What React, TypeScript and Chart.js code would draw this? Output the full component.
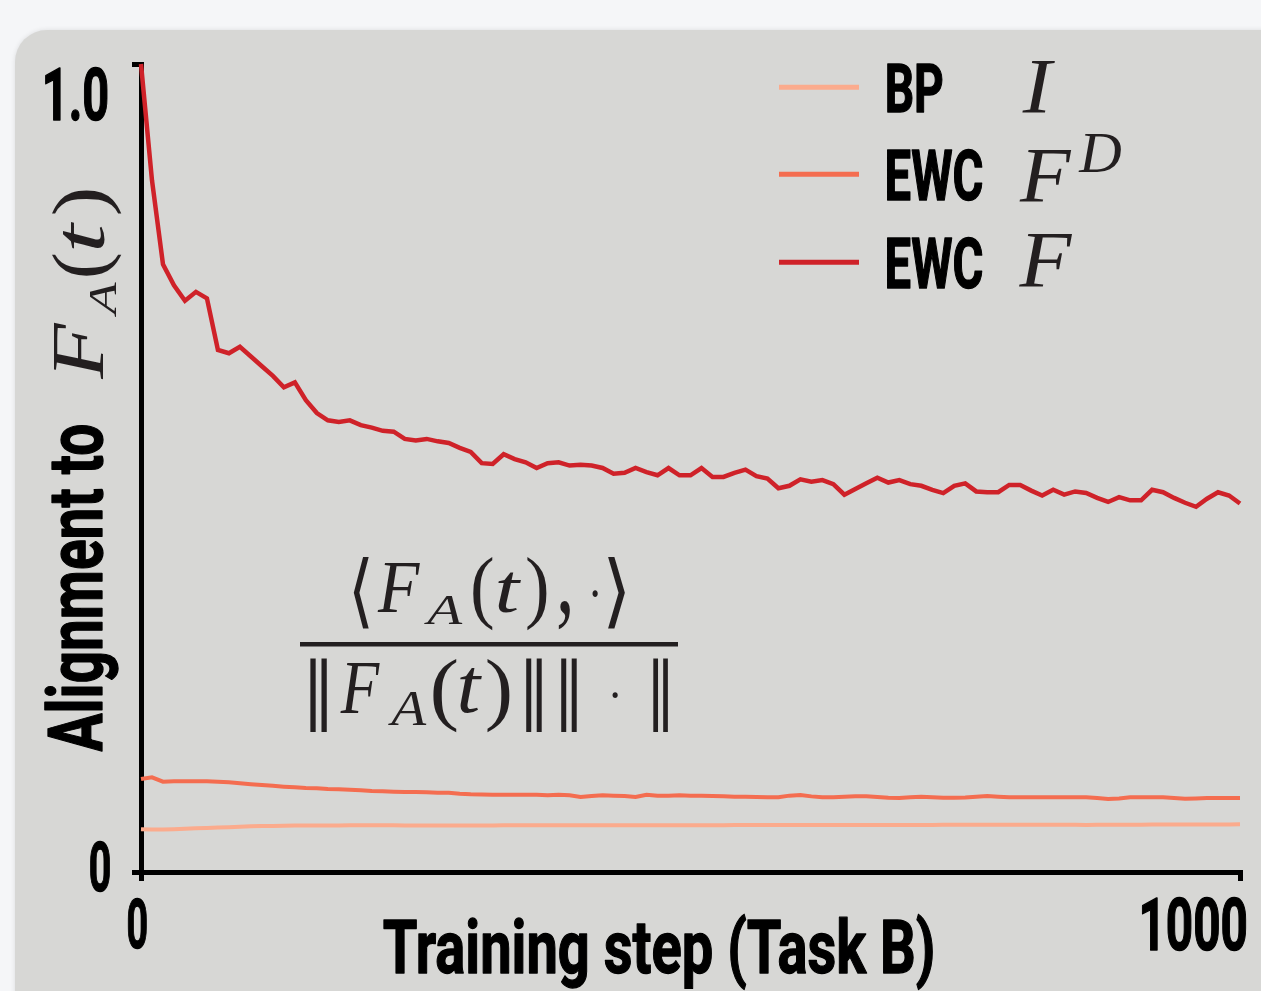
import React, { useEffect, useRef } from "react";
import { Chart, registerables } from "chart.js";

Chart.register(...registerables);

// ---------- data ----------
const steps: number[] = Array.from({ length: 101 }, (_, i) => i * 10);

const ewcF: number[] = [
  1.0, 0.856, 0.752, 0.726, 0.707, 0.718, 0.71, 0.646, 0.642, 0.65,
  0.638, 0.626, 0.614, 0.6, 0.606, 0.584, 0.568, 0.559, 0.557, 0.559,
  0.553, 0.55, 0.546, 0.545, 0.536, 0.534, 0.536, 0.533, 0.531, 0.525,
  0.52, 0.506, 0.505, 0.517, 0.511, 0.507, 0.5, 0.506, 0.507, 0.503,
  0.504, 0.503, 0.5, 0.493, 0.494, 0.5, 0.495, 0.491, 0.5, 0.491,
  0.491, 0.5, 0.489, 0.489, 0.494, 0.498, 0.49, 0.487, 0.475, 0.478,
  0.486, 0.483, 0.485, 0.48, 0.467, 0.474, 0.481, 0.488, 0.482, 0.485,
  0.48, 0.478, 0.473, 0.469, 0.478, 0.481, 0.471, 0.47, 0.47, 0.479,
  0.479, 0.472, 0.466, 0.473, 0.467, 0.471, 0.469, 0.463, 0.458, 0.464,
  0.46, 0.46, 0.473, 0.47, 0.463, 0.457, 0.452, 0.462, 0.47, 0.466,
  0.456,
];

const ewcFD: number[] = [
  0.1151, 0.1172, 0.1118, 0.1122, 0.1122, 0.1122, 0.1122, 0.1118, 0.111, 0.1097,
  0.1087, 0.1077, 0.1066, 0.1056, 0.1048, 0.104, 0.1036, 0.1027, 0.1023, 0.1017,
  0.1011, 0.1002, 0.0998, 0.0994, 0.099, 0.099, 0.0986, 0.0982, 0.0982, 0.0969,
  0.0961, 0.0959, 0.0957, 0.0957, 0.0957, 0.0957, 0.0955, 0.0949, 0.0957, 0.0949,
  0.0928, 0.094, 0.0949, 0.0945, 0.094, 0.0928, 0.0957, 0.0945, 0.0945, 0.0949,
  0.0945, 0.0943, 0.094, 0.0936, 0.0932, 0.093, 0.0928, 0.0924, 0.0924, 0.0945,
  0.0953, 0.0936, 0.0924, 0.0924, 0.093, 0.0936, 0.0936, 0.0928, 0.0918, 0.0916,
  0.0924, 0.0932, 0.0926, 0.092, 0.092, 0.0922, 0.0932, 0.094, 0.0932, 0.0924,
  0.0924, 0.0924, 0.0924, 0.0924, 0.0924, 0.0924, 0.0924, 0.0916, 0.0903, 0.0911,
  0.0924, 0.0924, 0.0924, 0.0924, 0.0916, 0.0907, 0.0911, 0.0916, 0.0916, 0.0916,
  0.0916,
];

const bpI: number[] = [
  0.053, 0.0525, 0.0525, 0.053, 0.0535, 0.054, 0.0545, 0.055, 0.0555, 0.056,
  0.0565, 0.0568, 0.057, 0.0572, 0.0574, 0.0575, 0.0576, 0.0577, 0.0577, 0.0578,
  0.0578, 0.0578, 0.0578, 0.0578, 0.0577, 0.0577, 0.0577, 0.0577, 0.0576, 0.0576,
  0.0576, 0.0577, 0.0577, 0.0578, 0.0578, 0.0578, 0.0579, 0.0579, 0.0579, 0.0579,
  0.0578, 0.0578, 0.0578, 0.0578, 0.0578, 0.0579, 0.0579, 0.0579, 0.058, 0.058,
  0.058, 0.058, 0.058, 0.058, 0.0581, 0.0581, 0.0581, 0.0581, 0.0581, 0.0581,
  0.0582, 0.0582, 0.0582, 0.0582, 0.0582, 0.0582, 0.0583, 0.0583, 0.0583, 0.0583,
  0.0583, 0.0583, 0.0583, 0.0584, 0.0584, 0.0584, 0.0584, 0.0585, 0.0585, 0.0585,
  0.0585, 0.0585, 0.0585, 0.0585, 0.0585, 0.0584, 0.0583, 0.0584, 0.0585, 0.0586,
  0.0586, 0.0586, 0.0587, 0.0587, 0.0587, 0.0588, 0.0588, 0.0588, 0.0589, 0.0589,
  0.059,
];

const xTicks: number[] = [0, 1000];
const yTicks: number[] = [0, 1];
const xTickLabels: string[] = ["0", "1000"];
const yTickLabels: string[] = ["0", "1.0"];
const legendNames: string[] = ["BP", "EWC", "EWC"];
const legendMath: string[] = ["I", "F", "F"];
const legendSup: string[] = ["", "D", ""];
const xTitle = "Training step (Task B)";
const yTitleText = "Alignment to";

// ---------- text helpers ----------
const COND = (s: number) => `700 ${s}px Roboto, "DejaVu Sans", sans-serif`;
const ITAL = (s: number) => `italic 400 ${s}px "Liberation Serif", "DejaVu Serif", serif`;
const UPR = (s: number) =>
  `400 ${s}px "Liberation Serif", "DejaVu Serif", "DejaVu Sans", "Noto Sans CJK JP", serif`;
const MATH_COLOR = "#231f20";
const COND_STROKE = 1.5;

type Box = { x0: number; y0: number; x1: number; y1: number };

function fitLocal(ctx: CanvasRenderingContext2D, text: string, font: string, color: string, b: Box, stroke = 0) {
  ctx.save();
  ctx.font = font;
  ctx.fillStyle = color;
  ctx.strokeStyle = color;
  ctx.textAlign = "left";
  ctx.textBaseline = "alphabetic";
  const m = ctx.measureText(text);
  const w = m.actualBoundingBoxLeft + m.actualBoundingBoxRight;
  const h = m.actualBoundingBoxAscent + m.actualBoundingBoxDescent;
  const sx = (b.x1 - b.x0) / (w + stroke);
  const sy = (b.y1 - b.y0) / (h + stroke);
  ctx.translate(b.x0 + (m.actualBoundingBoxLeft + stroke / 2) * sx, b.y0 + (m.actualBoundingBoxAscent + stroke / 2) * sy);
  ctx.scale(sx, sy);
  ctx.fillText(text, 0, 0);
  if (stroke > 0) {
    ctx.lineWidth = stroke;
    ctx.lineJoin = "round";
    ctx.strokeText(text, 0, 0);
  }
  ctx.restore();
}

// rotated -90deg: reading from yStart (bottom) up to yEnd; glyph tops toward xTop
function fitRot(ctx: CanvasRenderingContext2D, text: string, font: string, color: string,
  yStart: number, yEnd: number, xTop: number, xBottom: number, stroke = 0) {
  ctx.save();
  ctx.translate(xTop, yStart);
  ctx.rotate(-Math.PI / 2);
  fitLocal(ctx, text, font, color, { x0: 0, y0: 0, x1: yStart - yEnd, y1: xBottom - xTop }, stroke);
  ctx.restore();
}

const textPlugin = {
  id: "textPlugin",
  afterDraw(chart: any) {
    const ctx: CanvasRenderingContext2D = chart.ctx;
    const xs = chart.scales.x;
    const ys = chart.scales.y;
    const L = chart.chartArea.left;
    const B = chart.chartArea.bottom;

    // tick labels
    const p1 = ys.getPixelForValue(yTicks[1]);
    const p0 = ys.getPixelForValue(yTicks[0]);
    fitLocal(ctx, yTickLabels[1], COND(76), "#000", { x0: L - 96, y0: p1 + 4, x1: L - 33, y1: p1 + 58 }, COND_STROKE);
    fitLocal(ctx, yTickLabels[0], COND(74), "#000", { x0: L - 51, y0: p0 - 31, x1: L - 30.5, y1: p0 + 21 }, COND_STROKE);
    const q0 = xs.getPixelForValue(xTicks[0]);
    const q1 = xs.getPixelForValue(xTicks[1]);
    fitLocal(ctx, xTickLabels[0], COND(74), "#000", { x0: q0 - 13.3, y0: B + 25, x1: q0 + 6.3, y1: B + 78 }, COND_STROKE);
    fitLocal(ctx, xTickLabels[1], COND(76), "#000", { x0: q1 - 98.3, y0: B + 25, x1: q1 + 6.7, y1: B + 80 }, COND_STROKE);

    // x title
    fitLocal(ctx, xTitle, COND(84), "#000", { x0: 383, y0: 913, x1: 933, y1: 990 }, COND_STROKE);

    // y title
    fitRot(ctx, yTitleText, COND(86), "#000", 752, 425, 44, 118, COND_STROKE);
    fitRot(ctx, "F", ITAL(78), MATH_COLOR, 380, 322, 55, 104);
    fitRot(ctx, "A", ITAL(42), MATH_COLOR, 318, 282, 89, 116);
    fitRot(ctx, "(", UPR(78), MATH_COLOR, 276, 254, 52, 122);
    fitRot(ctx, "t", ITAL(78), MATH_COLOR, 249, 221, 64, 105);
    fitRot(ctx, ")", UPR(78), MATH_COLOR, 214, 190, 52, 122);

    // legend
    const ds = chart.data.datasets;
    const rows = [87.3, 174.3, 262.3];
    const nameBoxes: Box[] = [
      { x0: 886.7, y0: 64, x1: 943, y1: 112.3 },
      { x0: 886.7, y0: 148.3, x1: 982.7, y1: 201.7 },
      { x0: 886.7, y0: 236.7, x1: 982.7, y1: 290 },
    ];
    const mathBoxes: Box[] = [
      { x0: 1021.7, y0: 61.7, x1: 1056, y1: 113.3 },
      { x0: 1019, y0: 150, x1: 1072, y1: 201.7 },
      { x0: 1018.3, y0: 235, x1: 1072.7, y1: 288.3 },
    ];
    for (let i = 0; i < ds.length; i++) {
      ctx.save();
      ctx.strokeStyle = ds[i].borderColor;
      ctx.lineWidth = 5;
      ctx.beginPath();
      ctx.moveTo(779, rows[i]);
      ctx.lineTo(859, rows[i]);
      ctx.stroke();
      ctx.restore();
      fitLocal(ctx, legendNames[i], COND(73), "#000", nameBoxes[i], COND_STROKE);
      fitLocal(ctx, legendMath[i], ITAL(78), MATH_COLOR, mathBoxes[i]);
      if (legendSup[i]) {
        fitLocal(ctx, legendSup[i], ITAL(57), MATH_COLOR, { x0: 1078.3, y0: 133, x1: 1121.7, y1: 171.7 });
      }
    }

    // fraction annotation
    fitLocal(ctx, "\u27E8", UPR(76), MATH_COLOR, { x0: 353, y0: 557, x1: 369, y1: 630 });
    fitLocal(ctx, "F", ITAL(74), MATH_COLOR, { x0: 377, y0: 563, x1: 420, y1: 612 });
    fitLocal(ctx, "A", ITAL(40), MATH_COLOR, { x0: 423, y0: 597, x1: 463, y1: 624 });
    fitLocal(ctx, "(", UPR(74), MATH_COLOR, { x0: 473, y0: 557, x1: 493, y1: 630 });
    fitLocal(ctx, "t", ITAL(74), MATH_COLOR, { x0: 498, y0: 573, x1: 522, y1: 613 });
    fitLocal(ctx, ")", UPR(74), MATH_COLOR, { x0: 527, y0: 557, x1: 547, y1: 630 });
    fitLocal(ctx, ",", UPR(74), MATH_COLOR, { x0: 558, y0: 600, x1: 570, y1: 630 });
    fitLocal(ctx, "\u00B7", UPR(74), MATH_COLOR, { x0: 592, y0: 590, x1: 598, y1: 597 });
    fitLocal(ctx, "\u27E9", UPR(76), MATH_COLOR, { x0: 608, y0: 557, x1: 625, y1: 630 });

    ctx.save();
    ctx.fillStyle = MATH_COLOR;
    ctx.fillRect(300, 642, 378, 4.5);
    ctx.restore();

    fitLocal(ctx, "\u2016", UPR(74), MATH_COLOR, { x0: 309, y0: 658, x1: 327, y1: 732 });
    fitLocal(ctx, "F", ITAL(74), MATH_COLOR, { x0: 340, y0: 662, x1: 380, y1: 713 });
    fitLocal(ctx, "A", ITAL(40), MATH_COLOR, { x0: 387, y0: 692, x1: 427, y1: 725 });
    fitLocal(ctx, "(", UPR(74), MATH_COLOR, { x0: 433, y0: 658, x1: 457, y1: 732 });
    fitLocal(ctx, "t", ITAL(74), MATH_COLOR, { x0: 460, y0: 667, x1: 483, y1: 713 });
    fitLocal(ctx, ")", UPR(74), MATH_COLOR, { x0: 487, y0: 658, x1: 510, y1: 732 });
    fitLocal(ctx, "\u2016", UPR(74), MATH_COLOR, { x0: 525, y0: 658, x1: 542, y1: 732 });
    fitLocal(ctx, "\u2016", UPR(74), MATH_COLOR, { x0: 560, y0: 658, x1: 577, y1: 732 });
    fitLocal(ctx, "\u00B7", UPR(74), MATH_COLOR, { x0: 612, y0: 692, x1: 618, y1: 698 });
    fitLocal(ctx, "\u2016", UPR(74), MATH_COLOR, { x0: 652, y0: 658, x1: 668, y1: 732 });
  },
};

export default function App() {
  const ref = useRef<HTMLCanvasElement | null>(null);

  useEffect(() => {
    if (!ref.current) return;
    const toPts = (arr: number[]) => arr.map((v, i) => ({ x: steps[i], y: v }));
    const axisGrid = {
      display: true,
      drawOnChartArea: false,
      drawTicks: true,
      tickLength: 9,
      lineWidth: 5,
      color: "#000",
    };
    const chart = new Chart(ref.current, {
      type: "line",
      data: {
        datasets: [
          { label: "BP I", data: toPts(bpI), borderColor: "#fbab8d", borderWidth: 4, pointRadius: 0, tension: 0, clip: false as any },
          { label: "EWC F^D", data: toPts(ewcFD), borderColor: "#f46d50", borderWidth: 4, pointRadius: 0, tension: 0, clip: false as any },
          { label: "EWC F", data: toPts(ewcF), borderColor: "#cf2229", borderWidth: 4.5, pointRadius: 0, tension: 0, clip: false as any },
        ],
      },
      options: {
        animation: false,
        responsive: false,
        devicePixelRatio: 1,
        layout: { padding: { left: 132, top: 64, right: 21, bottom: 110 } },
        plugins: { legend: { display: false }, tooltip: { enabled: false } },
        scales: {
          x: {
            type: "linear",
            min: 0,
            max: 1000,
            afterBuildTicks: (s: any) => { s.ticks = xTicks.map((v) => ({ value: v })); },
            ticks: { display: false },
            grid: axisGrid as any,
            border: { display: true, color: "#000", width: 5 },
          },
          y: {
            type: "linear",
            min: 0,
            max: 1,
            afterBuildTicks: (s: any) => { s.ticks = yTicks.map((v) => ({ value: v })); },
            ticks: { display: false },
            grid: axisGrid as any,
            border: { display: true, color: "#000", width: 5 },
          },
        },
      },
      plugins: [textPlugin],
    });
    return () => chart.destroy();
  }, []);

  return (
    <div style={{ position: "fixed", left: 0, top: 0, width: 1261, height: 991, background: "#f5f6f8", overflow: "hidden" }}>
      <div
        style={{
          position: "absolute",
          left: 15,
          top: 30,
          width: 1320,
          height: 1040,
          borderRadius: 32,
          background: "#d7d7d5",
          boxShadow: "0 0 5px rgba(0,0,0,0.10)",
        }}
      />
      <canvas ref={ref} width={1261} height={991} style={{ position: "absolute", left: 0, top: 0, width: 1261, height: 991 }} />
    </div>
  );
}
